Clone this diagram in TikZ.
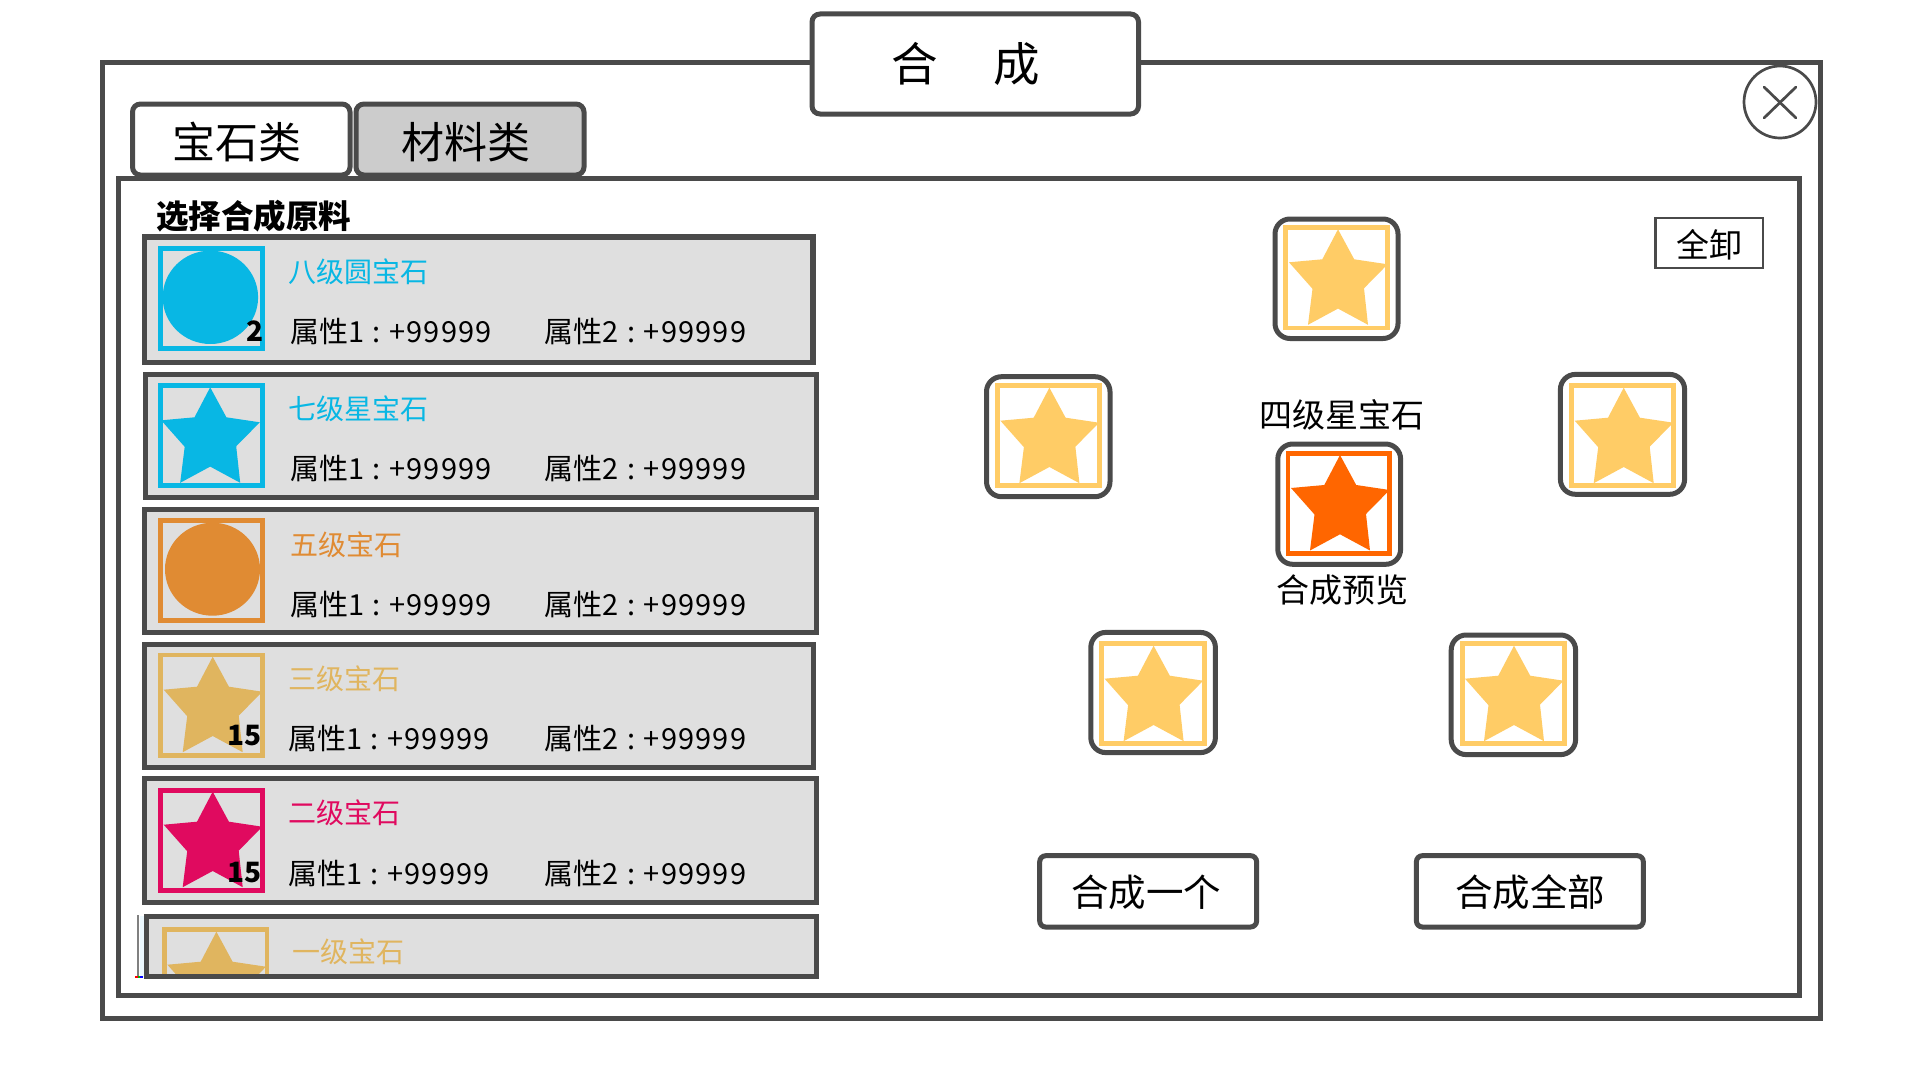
\documentclass[tikz,border=0pt]{standalone}
\usepackage{fontspec}
\setmainfont{Noto Sans CJK SC}
\definecolor{linegray}{HTML}{4A4A4A}
\definecolor{tabgray}{HTML}{CCCCCC}
\definecolor{rowgray}{HTML}{DFDFDF}
\definecolor{gemblue}{HTML}{08B7E4}
\definecolor{gemorange}{HTML}{E08B33}
\definecolor{gemgold}{HTML}{E0B55F}
\definecolor{gempink}{HTML}{E00A5F}
\definecolor{gemyellow}{HTML}{FFCC66}
\definecolor{gemfire}{HTML}{FF6600}
\tikzset{
  frameline/.style={draw=linegray,line width=5pt},
  softbox/.style={frameline,fill=white,rounded corners=8pt},
  tabbox/.style={frameline,rounded corners=8pt},
  rowbox/.style={frameline,fill=rowgray},
  slotbox/.style={frameline,fill=white,rounded corners=15pt},
  gembox/.style={draw=#1,line width=4.6pt},
  tabtext/.style={inner sep=0pt,font=\fontsize{43}{46}\selectfont},
  nametext/.style={anchor=west,inner sep=0pt,text=#1,font=\fontsize{28}{30}\selectfont},
  attrtext/.style={anchor=west,inner sep=0pt,font=\fontsize{29}{30}\selectfont},
  counttext/.style={anchor=east,inner sep=0pt,font=\bfseries\fontsize{28}{30}\selectfont},
  slottext/.style={inner sep=0pt,font=\fontsize{33}{36}\selectfont},
  btntext/.style={inner sep=0pt,font=\fontsize{37.5}{40}\selectfont},
}
% star drawn from its top point
\newcommand{\gemstar}[3]{\fill[#3,shift={(#1,#2)}] (0,0) -- (16.2,30) -- (49.6,35) -- (26,59) -- (30,95.5) -- (0,79.3) -- (-30,95.5) -- (-25.5,59.5) -- (-49,33) -- (-15.7,30) -- cycle;}
% one attribute text
\newcommand{\attrval}[1]{属性#1\makebox[25pt]{:}{\addfontfeature{LetterSpace=4}+99999}}
\begin{document}
\begin{tikzpicture}[x=1pt,y=-1pt]
  \useasboundingbox (0,0) rectangle (1920,1081);
  \fill[white] (0,0) rectangle (1920,1081);

  % window
  \draw[frameline,fill=white] (102.5,62.5) rectangle (1820,1018);
  \draw[softbox] (812,14) rectangle (1138.5,114);
  \node[inner sep=0pt,font=\fontsize{46.5}{50}\selectfont] (title) at (966,63.5) {合\hspace{55.5pt}成};
  \draw[linegray,line width=2.7pt,fill=white] (1780,102) circle (36);
  \draw[linegray,line width=2.7pt,line cap=round] (1764,87) -- (1796,118);
  \draw[linegray,line width=2.7pt,line cap=round] (1796,87) -- (1764,118);

  % tabs
  \draw[tabbox,fill=white] (132.5,104) rectangle (350,175);
  \draw[tabbox,fill=tabgray] (356,104) rectangle (584,175);
  \node[tabtext] (tabgem) at (237,142) {宝石类};
  \node[tabtext] (tabmat) at (466,142) {材料类};
  \draw[frameline,fill=white] (118.5,178.5) rectangle (1799,995);
  \node[anchor=west,inner sep=0pt,font=\bfseries\fontsize{32.5}{36}\selectfont] (pick) at (156,216) {选择合成原料};

  % row 1
  \draw[rowbox,line width=5.8pt] (144.5,237) rectangle (813,362.5);
  \draw[gembox=gemblue,fill=rowgray] (160.2,248.3) rectangle (262.7,348.4);
  \fill[gemblue] (210.4,297.3) ellipse (47.7 and 46.7);
  \node[counttext] (countA) at (263.5,331) {2};
  \node[nametext=gemblue] (nameA) at (288,272) {八级圆宝石};
  \node[attrtext] (attrAa) at (290,331) {\attrval{1}};
  \node[attrtext] (attrAb) at (544.5,331) {\attrval{2}};

  % row 2
  \draw[rowbox] (145,374) rectangle (816,497.5);
  \draw[gembox=gemblue] (160.2,385.6) rectangle (262.7,485.7);
  \gemstar{210.2}{387.3}{gemblue}
  \node[nametext=gemblue] (nameB) at (288,409) {七级星宝石};
  \node[attrtext] (attrBa) at (290,468) {\attrval{1}};
  \node[attrtext] (attrBb) at (544.5,468) {\attrval{2}};

  % row 3
  \draw[rowbox] (144,509) rectangle (816,632);
  \draw[gembox=gemorange] (160.6,520.6) rectangle (262.7,620.4);
  \fill[gemorange] (212.5,569.2) ellipse (47.5 and 46.5);
  \node[nametext=gemorange] (nameC) at (290.5,544.5) {五级宝石};
  \node[attrtext] (attrCa) at (290,604) {\attrval{1}};
  \node[attrtext] (attrCb) at (544.5,604) {\attrval{2}};

  % row 4
  \draw[rowbox] (144,644) rectangle (813.5,767);
  \draw[gembox=gemgold] (160.2,655) rectangle (262.7,755.4);
  \gemstar{212.7}{656.7}{gemgold}
  \node[counttext] (countD) at (262,735.5) {15};
  \node[nametext=gemgold] (nameD) at (288,679) {三级宝石};
  \node[attrtext] (attrDa) at (288,738) {\attrval{1}};
  \node[attrtext] (attrDb) at (544.5,738) {\attrval{2}};

  % row 5
  \draw[rowbox] (144,778.5) rectangle (816,902);
  \draw[gembox=gempink] (160.2,790.3) rectangle (262.7,890.4);
  \gemstar{212.7}{791.7}{gempink}
  \node[counttext] (countE) at (262,873) {15};
  \node[nametext=gempink] (nameE) at (288,812.5) {二级宝石};
  \node[attrtext] (attrEa) at (288,873) {\attrval{1}};
  \node[attrtext] (attrEb) at (544.5,873) {\attrval{2}};

  % row 6, cut off by the list
  \fill[cyan!8] (139.5,916) rectangle (144,977);
  \draw[rowbox] (146.5,916) rectangle (816,976);
  \begin{scope}
    \clip (146.5,916) rectangle (816,976);
    \draw[gembox=gemgold] (164.5,929.5) rectangle (267,1030);
    \gemstar{216.4}{931.7}{gemgold}
  \end{scope}
  \node[nametext=gemgold] (nameF) at (292,951.5) {一级宝石};
  \draw[rowbox,fill=none] (146.5,916) rectangle (816,976);
  \draw[gray,line width=2.4pt] (138,915) -- (138,976);
  \fill[red] (135,976) rectangle (137.5,978);
  \fill[green!70!black] (137.5,976) rectangle (140,978);
  \fill[blue] (140,976) rectangle (142.5,978);

  % slots
  \draw[slotbox] (1275,219) rectangle (1398,338.5);
  \draw[gembox=gemyellow] (1285.3,227.3) rectangle (1387.2,328);
  \gemstar{1338}{229.3}{gemyellow}
  \draw[slotbox] (986.5,376.7) rectangle (1110,496.7);
  \draw[gembox=gemyellow] (997.3,385.6) rectangle (1099.7,485.4);
  \gemstar{1049.4}{387.7}{gemyellow}
  \draw[slotbox] (1560.4,374.4) rectangle (1684.6,494.3);
  \draw[gembox=gemyellow] (1571.3,385.6) rectangle (1673.7,485.4);
  \gemstar{1623.7}{387.7}{gemyellow}
  \draw[slotbox] (1090.8,632.4) rectangle (1215.4,752.6);
  \draw[gembox=gemyellow] (1101.6,643.6) rectangle (1204.5,743.7);
  \gemstar{1153.6}{645.7}{gemyellow}
  \draw[slotbox] (1451.2,635) rectangle (1575.6,754.6);
  \draw[gembox=gemyellow] (1462.3,643.6) rectangle (1564.7,743.7);
  \gemstar{1514}{645.7}{gemyellow}
  \draw[slotbox] (1277.8,444) rectangle (1400.6,564.3);
  \draw[gembox=gemfire] (1288.1,453.3) rectangle (1389.7,553.4);
  \gemstar{1340}{455}{gemfire}
  \node[slottext] (preview) at (1342,415) {四级星宝石};
  \node[slottext] (previewcap) at (1342,590.5) {合成预览};

  % buttons
  \draw[linegray,line width=2.6pt] (1655.3,218) rectangle (1763,268);
  \node[slottext] (unload) at (1709,245) {全卸};
  \draw[softbox,rounded corners=6pt] (1039.7,855.7) rectangle (1256.6,927);
  \node[btntext] (makeone) at (1146,892) {合成一个};
  \draw[softbox,rounded corners=6pt] (1416.4,855.7) rectangle (1643.3,927);
  \node[btntext] (makeall) at (1530,892) {合成全部};
\end{tikzpicture}
\end{document}
